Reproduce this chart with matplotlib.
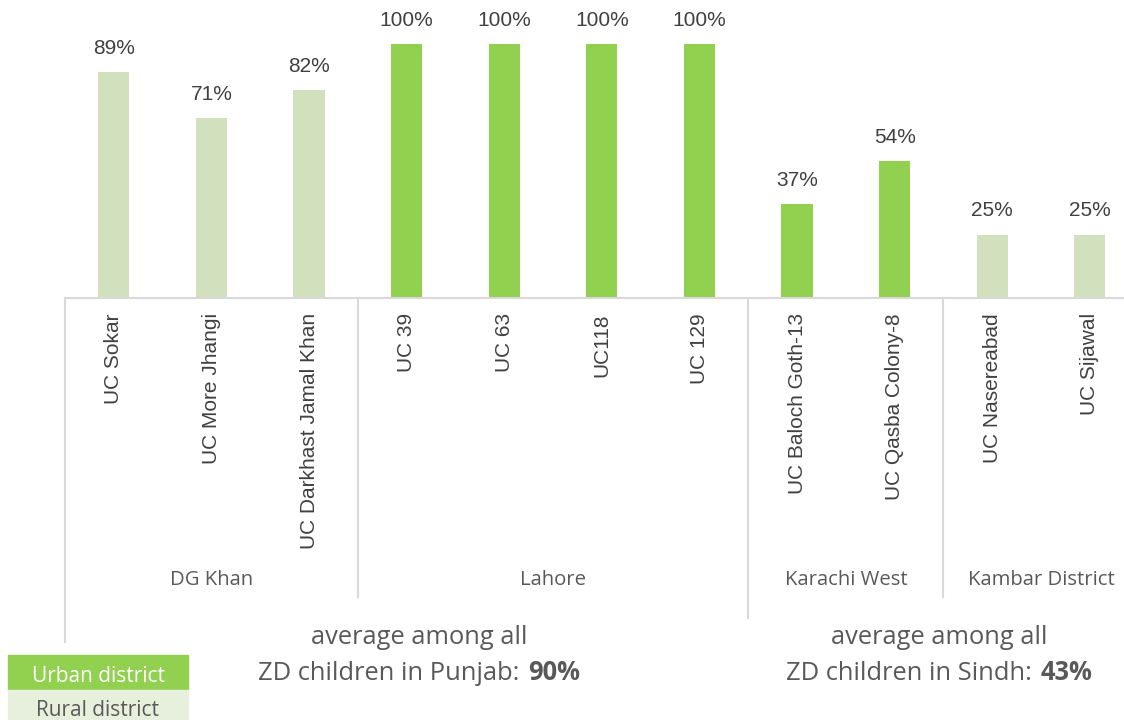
import matplotlib
matplotlib.use("Agg")
import matplotlib.pyplot as plt
from matplotlib.patches import Rectangle
from matplotlib.offsetbox import TextArea, HPacker, AnnotationBbox

# data
ucs = ['UC Sokar', 'UC More Jhangi', 'UC Darkhast Jamal Khan',
       'UC 39', 'UC 63', 'UC118', 'UC 129',
       'UC Baloch Goth-13', 'UC Qasba Colony-8',
       'UC Nasereabad', 'UC Sijawal']
values = [89, 71, 82, 100, 100, 100, 100, 37, 54, 25, 25]
urban = [False, False, False, True, True, True, True, True, True, False, False]
districts = ['DG Khan', 'Lahore', 'Karachi West', 'Kambar District']
district_sizes = [3, 4, 2, 2]
provinces = ['Punjab', 'Sindh']
province_sizes = [7, 4]
province_avg = [90, 43]

URBAN = '#92D050'
RURAL = '#D1E0BD'
LINE = '#D9D9D9'
DARK = '#404040'
GREY = '#595959'
ARIAL = 'Liberation Sans'
CALI = 'Open Sans'

W, H = 1124, 720
fig = plt.figure(figsize=(W / 100, H / 100), dpi=100)

# axes placed in pixels: left 65, right 1124, baseline at y=298, top at y=0
base = 298
ax = fig.add_axes([65 / W, (H - base) / H, (W - 65) / W, base / H])
ax.set_xlim(-0.5, 10.35)
ax.set_ylim(0, 100 * base / 254)

x = list(range(len(values)))
colors = [URBAN if u else RURAL for u in urban]
bars = ax.bar(x, values, width=0.32, color=colors, zorder=2)
for b, v in zip(bars, values):
    ax.annotate(f'{v}%', (b.get_x() + b.get_width() / 2, v), xytext=(0, 14),
                textcoords='offset pixels', ha='center', va='bottom',
                fontsize=15, color=DARK, family=ARIAL)

for s in ['top', 'right', 'left']:
    ax.spines[s].set_visible(False)
ax.spines['bottom'].set_color(LINE)
ax.spines['bottom'].set_linewidth(1.5)
ax.set_yticks([])
ax.set_xticks(x)
ax.set_xticklabels(ucs, rotation=90, fontsize=15, color=DARK, family=ARIAL)
ax.tick_params(axis='x', length=0, pad=11)

trans = ax.get_xaxis_transform()


def ypx(p):
    # pixel row -> axes fraction
    return (base - p) / base


# separators and district labels
start = 0
bounds = [-0.5]
for name, n in zip(districts, district_sizes):
    mid = start + (n - 1) / 2
    ax.text(mid, ypx(580), name, transform=trans, ha='center', va='center',
            fontsize=14.6, color=GREY, family=CALI)
    start += n
    bounds.append(start - 0.5)

prov_edges = [-0.5]
acc = 0
for n in province_sizes:
    acc += n
    prov_edges.append(acc - 0.5)

for bx in bounds[:-1]:
    bottom = 642 if bx == -0.5 else (618 if bx in prov_edges else 597)
    ax.plot([bx, bx], [ypx(base), ypx(bottom)], transform=trans, color=LINE,
            lw=1.5, clip_on=False)

# province averages
prov_x = [3.13, 8.46]
for px_, prov, avg in zip(prov_x, provinces, province_avg):
    ax.text(px_, ypx(638), 'average among all', transform=trans, ha='center',
            va='center', fontsize=18.4, color=GREY, family=CALI)
    t1 = TextArea(f'ZD children in {prov}:',
                  textprops=dict(fontsize=18.4, color=GREY, family=CALI))
    t2 = TextArea(f'{avg}%', textprops=dict(fontsize=18.4, color=GREY,
                                            family=CALI, weight='bold'))
    pack = HPacker(children=[t1, t2], align='baseline', pad=0, sep=6)
    ab = AnnotationBbox(pack, (px_, ypx(673)), xycoords=trans, frameon=False,
                        box_alignment=(0.5, 0.5), annotation_clip=False)
    ax.add_artist(ab)

# legend boxes
fig.patches.append(Rectangle((8 / W, (H - 690) / H), 180 / W, 35 / H,
                             transform=fig.transFigure, color=URBAN))
fig.patches.append(Rectangle((8 / W, 0), 180 / W, 30 / H,
                             transform=fig.transFigure, color='#E6F0DC'))
fig.text(98 / W, (H - 676) / H, 'Urban district', ha='center', va='center',
         fontsize=15, color='white', family=CALI)
fig.text(98 / W, (H - 710) / H, 'Rural district', ha='center', va='center',
         fontsize=15, color=GREY, family=CALI)

fig.savefig('out.png', dpi=100)
